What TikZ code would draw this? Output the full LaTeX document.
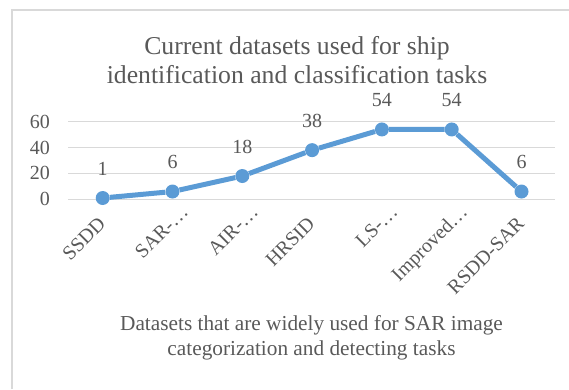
\documentclass[tikz,border=0pt]{standalone}
\usepackage{fontspec}
\setmainfont{Liberation Serif}
\usetikzlibrary{positioning}
\definecolor{serieblue}{RGB}{91,155,213}
\definecolor{gridgray}{RGB}{217,217,217}
\definecolor{textgray}{RGB}{89,89,89}
\begin{document}
\begin{tikzpicture}[x=1pt, y=1pt,
      dot/.style={circle, fill=serieblue, inner sep=0pt, minimum size=14pt},
      serie/.style={draw=serieblue, line width=5pt, line join=round},
      grid/.style={draw=gridgray, line width=1.3pt},
      numlbl/.style={inner sep=0pt, text=textgray, font=\fontsize{20}{24}\selectfont},
      catlbl/.style={numlbl, anchor=base east, rotate=45},
      titlelbl/.style={inner sep=0pt, text=textgray, align=center}
    ]
      \useasboundingbox (0,0) rectangle (569,389);
      % chart frame
      \draw[gridgray, line width=1.5pt] (12,0) -- (12,379) -- (569,379);

      % gridlines and value axis
      \foreach \g in {0,20,40,60} {
        \draw[grid] (68.3,{189.7+\g*1.2933}) -- (555,{189.7+\g*1.2933});
        \node[numlbl, anchor=east] (y\g) at (50,{189.7+\g*1.2933}) {\g};
      }

      % series
      \foreach \v [count=\i] in {1,6,18,38,54,54,6} {
        \node[dot] (p\i) at ({32.9+69.8*\i},{189.7+\v*1.2933}) {};
        \node[numlbl, above=15pt of p\i] (v\i) {\v};
      }
      \draw[serie] (p1) -- (p2) -- (p3) -- (p4) -- (p5) -- (p6) -- (p7);

      % category labels (cut ones end further out)
      \foreach \t/\dx/\ly [count=\i] in {SSDD/4/164, SAR-…/17/176, AIR-…/17/176,
          HRSID/4/164, LS-…/17/176, Improved…/17/176, RSDD-SAR/4/164}
        \node[catlbl] (c\i) at ({32.9+69.8*\i+\dx},\ly) {\t};

      % titles
      \node[titlelbl, font=\fontsize{25.7}{29}\selectfont] (title) at (297,328.5)
        {Current datasets used for ship\\identification and classification tasks};
      \node[titlelbl, font=\fontsize{21.3}{25}\selectfont] (xtitle) at (311.5,51.5)
        {Datasets that are widely used for SAR image\\categorization and detecting tasks};
    \end{tikzpicture}
\end{document}
